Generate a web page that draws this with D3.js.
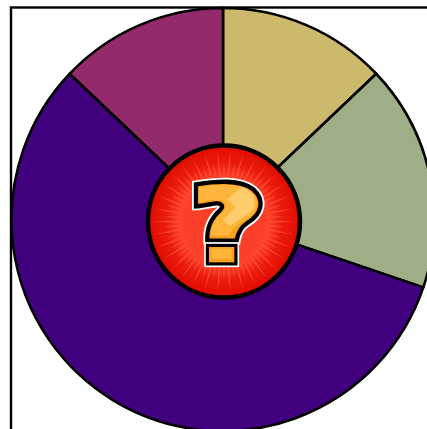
<!DOCTYPE html>
<html>
<head>
<meta charset="utf-8">
<script src="https://cdn.jsdelivr.net/npm/d3@7"></script>
<style>
  html, body { margin: 0; padding: 0; background: #fff; overflow: hidden; }
  svg { display: block; }
</style>
</head>
<body>
<div id="chart"></div>
<script>
//Declare datasets
var categories = ["A", "B", "C", "D"];
var values = [12.9, 17.3, 56.9, 12.9];
var colors = ["#cdb96b", "#9fae85", "#41007d", "#932a6b"];

function init() {
  var w = 427;
  var h = 429;
  var cx = 223;
  var cy = 219.5;
  var radius = 211.5;
  var badgeX = 224;
  var badgeY = 221.5;
  var badgeRadius = 76;

  var svg = d3.select("#chart")
    .append("svg")
    .attr("width", w)
    .attr("height", h);

  //Frame, the right and bottom sides fall outside the window
  svg.append("rect")
    .attr("x", 11)
    .attr("y", 7.5)
    .attr("width", 600)
    .attr("height", 600)
    .attr("fill", "#fff")
    .attr("stroke", "#000")
    .attr("stroke-width", 2.4);

  var colorScale = d3.scaleOrdinal()
    .domain(categories)
    .range(colors);

  var pie = d3.pie()
    .sort(null)
    .value(function (d, i) { return values[i]; });

  var arc = d3.arc()
    .innerRadius(0)
    .outerRadius(radius);

  var g = svg.append("g")
    .attr("transform", "translate(" + cx + "," + cy + ")");

  g.selectAll("path.slice")
    .data(pie(categories))
    .enter()
    .append("path")
    .attr("class", "slice")
    .attr("d", arc)
    .attr("fill", function (d) { return colorScale(d.data); })
    .attr("stroke", "#000")
    .attr("stroke-width", 2.6)
    .attr("stroke-linejoin", "round");

  //Unknown value badge in the middle
  var defs = svg.append("defs");
  var grad = defs.append("radialGradient")
    .attr("id", "badgeFill");
  grad.append("stop").attr("offset", "0.6").attr("stop-color", "#fb3f28");
  grad.append("stop").attr("offset", "0.76").attr("stop-color", "#ec1c0c");
  grad.append("stop").attr("offset", "1").attr("stop-color", "#de0c00");

  var badge = svg.append("g")
    .attr("transform", "translate(" + badgeX + "," + badgeY + ")");

  badge.append("circle")
    .attr("r", badgeRadius)
    .attr("fill", "url(#badgeFill)")
    .attr("stroke", "#000")
    .attr("stroke-width", 4.5);

  //Sunburst rays
  var rayCount = 68;
  var rays = d3.range(rayCount);
  badge.selectAll("path.ray")
    .data(rays)
    .enter()
    .append("path")
    .attr("class", "ray")
    .attr("fill", "#fb4a30")
    .attr("d", function (i) {
      var a = i / rayCount * 2 * Math.PI;
      var da = 0.03;
      var r0 = 42;
      var r1 = i % 2 ? 60 : 71;
      return "M" + r0 * Math.cos(a - da) + "," + r0 * Math.sin(a - da) +
        "L" + r1 * Math.cos(a) + "," + r1 * Math.sin(a) +
        "L" + r0 * Math.cos(a + da) + "," + r0 * Math.sin(a + da) + "Z";
    });

  //Question mark, drawn in a 510 unit box at a third of its size
  var mark = svg.append("g")
    .attr("transform", "translate(140,135) scale(0.3333)");

  var hook = "M168,148 C230,138 300,132 340,163 C376,195 366,238 322,264 " +
    "C302,277 294,292 290,317 L202,317 C200,280 212,250 240,226 " +
    "C256,210 240,202 215,207 C195,210 182,213 168,214 Z";

  mark.append("path")
    .attr("d", hook)
    .attr("fill", "#000")
    .attr("stroke", "#fff")
    .attr("stroke-width", 24)
    .attr("stroke-linejoin", "miter");
  mark.append("path")
    .attr("d", hook)
    .attr("fill", "#f9a020")
    .attr("stroke", "#000")
    .attr("stroke-width", 13)
    .attr("stroke-linejoin", "miter");

  //Lighter top of the hook
  mark.append("path")
    .attr("d", "M176,156 C235,146 298,143 334,172 C362,198 354,232 316,254 " +
      "C296,266 274,284 266,302 L212,302 C213,270 226,248 250,228 " +
      "C272,205 245,190 212,195 C200,197 188,199 176,201 Z")
    .attr("fill", "#feb53c");

  //Shine on the hook
  mark.append("path")
    .attr("d", "M262,192 L305,156 C338,166 354,197 338,224 C325,242 297,250 272,272 " +
      "C262,268 255,262 248,258 L285,218 Z")
    .attr("fill", "#ffd278")
    .attr("opacity", 0.8);

  //Dot
  mark.append("rect")
    .attr("x", 195)
    .attr("y", 324)
    .attr("width", 100)
    .attr("height", 70)
    .attr("fill", "#000")
    .attr("stroke", "#fff")
    .attr("stroke-width", 5);
  mark.append("rect")
    .attr("x", 207)
    .attr("y", 336)
    .attr("width", 76)
    .attr("height", 46)
    .attr("fill", "#f9a020");
  mark.append("rect")
    .attr("x", 215)
    .attr("y", 341)
    .attr("width", 60)
    .attr("height", 30)
    .attr("fill", "#feb53c");
}

window.onload = init;
</script>
</body>
</html>
